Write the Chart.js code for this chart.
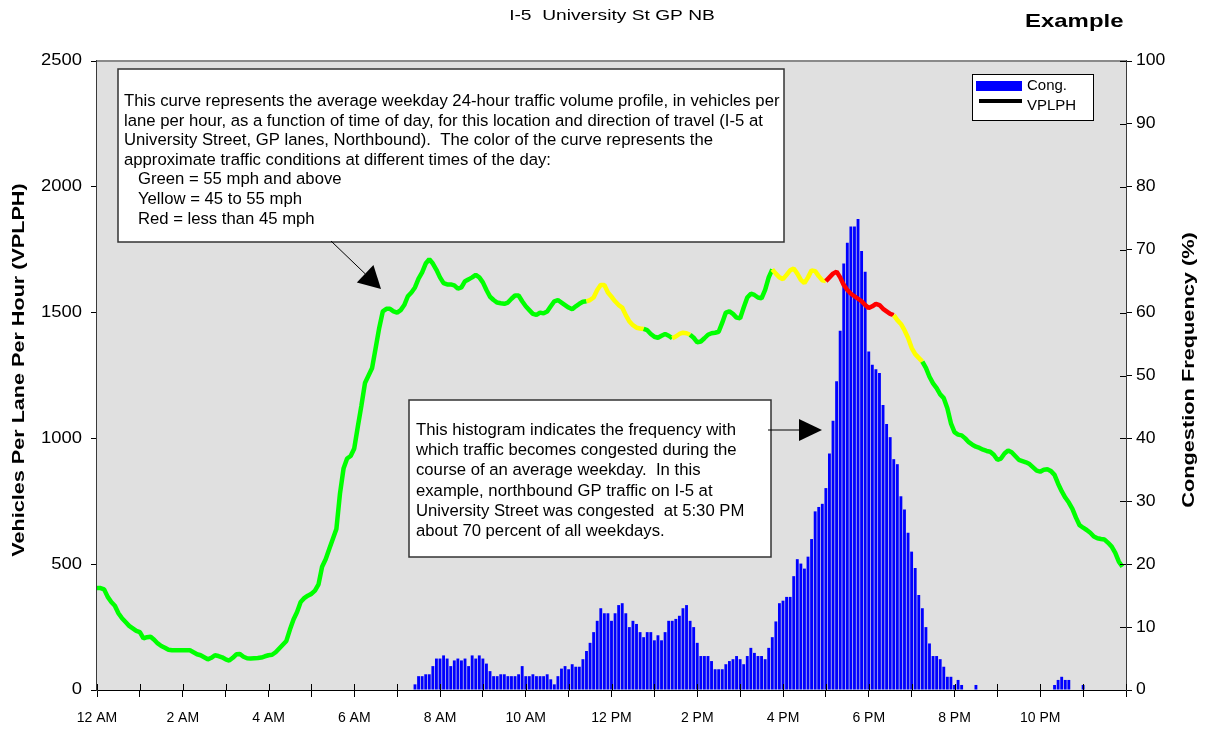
<!DOCTYPE html>
<html>
<head>
<meta charset="utf-8">
<script src="https://cdn.jsdelivr.net/npm/chart.js@4.4.1/dist/chart.umd.min.js"></script>
<style>
  html, body { margin: 0; padding: 0; background: #ffffff; }
  #wrap { width: 1217px; height: 730px; }
</style>
</head>
<body>
<div id="wrap"><canvas id="chart" width="1217" height="730"></canvas></div>
<script>
// Time bins are 5 minutes wide, 12 per hour, starting at midnight
const binMinutes = 5;

// Average weekday volume, vehicles per lane per hour (one row per hour)
const vplph = [
  405, 405, 400, 370, 350, 335, 305, 285, 270, 255, 245, 235,        // 12 AM
  230, 205, 210, 212, 200, 185, 175, 168, 160, 158, 158, 158,        // 1 AM
  158, 158, 158, 150, 142, 138, 130, 122, 128, 138, 135, 130,        // 2 AM
  122, 117, 128, 142, 143, 132, 126, 125, 126, 127, 129, 134,        // 3 AM
  138, 140, 150, 165, 180, 195, 240, 280, 310, 350, 365, 375,        // 4 AM
  382, 395, 420, 490, 520, 560, 600, 640, 780, 880, 920, 930,        // 5 AM
  960, 1047, 1130, 1220, 1250, 1280, 1360, 1440, 1505, 1515, 1515, 1505, // 6 AM
  1500, 1510, 1530, 1565, 1580, 1600, 1635, 1660, 1695, 1712, 1695, 1670, // 7 AM
  1640, 1617, 1612, 1612, 1608, 1595, 1600, 1625, 1632, 1640, 1650, 1640, // 8 AM
  1620, 1590, 1563, 1550, 1540, 1537, 1535, 1540, 1555, 1568, 1568, 1545, // 9 AM
  1525, 1510, 1495, 1491, 1500, 1497, 1504, 1525, 1545, 1550, 1540, 1530, // 10 AM
  1520, 1513, 1525, 1535, 1543, 1545, 1550, 1560, 1590, 1610, 1610, 1580, // 11 AM
  1563, 1545, 1530, 1520, 1490, 1465, 1450, 1440, 1437, 1435, 1430, 1415, // 12 PM
  1404, 1400, 1408, 1415, 1408, 1398, 1405, 1415, 1420, 1418, 1412, 1400, // 1 PM
  1382, 1385, 1398, 1412, 1418, 1420, 1424, 1460, 1500, 1505, 1495, 1480, // 2 PM
  1477, 1520, 1560, 1575, 1570, 1560, 1557, 1590, 1640, 1672, 1655, 1640, // 3 PM
  1633, 1650, 1668, 1675, 1655, 1630, 1617, 1640, 1668, 1665, 1645, 1628, // 4 PM
  1625, 1640, 1655, 1663, 1640, 1610, 1590, 1575, 1565, 1555, 1545, 1530, // 5 PM
  1518, 1525, 1535, 1530, 1515, 1505, 1495, 1490, 1470, 1455, 1430, 1400, // 6 PM
  1360, 1335, 1320, 1305, 1280, 1245, 1219, 1200, 1175, 1160, 1120, 1060, // 7 PM
  1025, 1015, 1012, 1000, 985, 975, 967, 962, 955, 950, 947, 935,    // 8 PM
  915, 920, 940, 952, 945, 930, 915, 910, 905, 898, 885, 872,        // 9 PM
  868, 875, 877, 870, 855, 820, 790, 765, 745, 720, 685, 655,        // 10 PM
  645, 636, 625, 610, 603, 600, 598, 585, 570, 545, 510, 490         // 11 PM
];

// Congestion frequency, percent of weekdays (one row per hour)
const congestion = [
  0, 0, 0, 0, 0, 0, 0, 0, 0, 0, 0, 0,                                // 12 AM
  0, 0, 0, 0, 0, 0, 0, 0, 0, 0, 0, 0,                                // 1 AM
  0, 0, 0, 0, 0, 0, 0, 0, 0, 0, 0, 0,                                // 2 AM
  0, 0, 0, 0, 0, 0, 0, 0, 0, 0, 0, 0,                                // 3 AM
  0, 0, 0, 0, 0, 0, 0, 0, 0, 0, 0, 0,                                // 4 AM
  0, 0, 0, 0, 0, 0, 0, 0, 0, 0, 0, 0,                                // 5 AM
  0, 0, 0, 0, 0, 0, 0, 0, 0, 0, 0, 0,                                // 6 AM
  0, 0, 0, 0, 0, 0.9, 2.2, 2.2, 2.5, 2.5, 3.8, 5,                    // 7 AM
  5, 5.5, 5, 3.8, 4.7, 5, 4.7, 5, 3.8, 5.5, 5, 5.5,                  // 8 AM
  5, 4.2, 3, 2.2, 2.2, 2.5, 2.5, 2.2, 2.2, 2.2, 2.5, 3.8,            // 9 AM
  2.2, 2.2, 2.5, 2.2, 2.2, 2.2, 2.5, 1.7, 0.9, 2.2, 3.4, 3.8,        // 10 AM
  3.3, 4.1, 3.7, 3.7, 4.9, 6.2, 7.5, 9.2, 11, 13, 12.2, 12.2,        // 11 AM
  11, 12.2, 13.5, 13.8, 12.2, 10, 11, 10.5, 9.2, 8.4, 9.2, 9.2,      // 12 PM
  7.9, 8.7, 7.9, 9.2, 11, 11, 11.3, 11.8, 13, 13.5, 11, 10,          // 1 PM
  7.5, 5.4, 5.4, 5.4, 4.6, 3.3, 3.3, 3.3, 4.1, 4.6, 4.9, 5.4,        // 2 PM
  4.9, 4.1, 5.4, 6.7, 5.9, 5.4, 5.4, 4.9, 6.7, 8.4, 10.9, 13.8,      // 3 PM
  14.2, 14.8, 14.8, 18.1, 20.8, 20.1, 19.3, 21.2, 24, 28.4, 29.1, 29.6, // 4 PM
  32.1, 37.6, 42.8, 49.1, 57.1, 67.8, 71.1, 73.7, 73.7, 74.9, 69.8, 66.5, // 5 PM
  53.8, 51.7, 51, 50.4, 45.3, 42.3, 40.2, 36.7, 35.9, 30.8, 28.7, 25, // 6 PM
  22, 19.4, 15.1, 13, 10, 7.4, 5.4, 5.4, 4.9, 3.7, 2.1, 2.1,         // 7 PM
  0.8, 1.6, 0.8, 0, 0, 0, 0.8, 0, 0, 0, 0, 0,                        // 8 PM
  0, 0, 0, 0, 0, 0, 0, 0, 0, 0, 0, 0,                                // 9 PM
  0, 0, 0, 0, 0.8, 1.6, 2.1, 1.6, 1.6, 0, 0, 0,                      // 10 PM
  0.8, 0, 0, 0, 0, 0, 0, 0, 0, 0, 0, 0                               // 11 PM
];

// Speed condition of the curve: each band starts at the given minute
const conditionStarts = [0, 685, 765, 805, 830, 945, 1020, 1115, 1155];
const conditionColors = ['#00ff00', '#ffff00', '#00ff00', '#ffff00', '#00ff00', '#ffff00', '#ff0000', '#ffff00', '#00ff00'];

// Bottom axis labels, every two hours
const timeLabels = ['12 AM', '2 AM', '4 AM', '6 AM', '8 AM', '10 AM', '12 PM', '2 PM', '4 PM', '6 PM', '8 PM', '10 PM'];

const chartTitle = 'I-5  University St GP NB';
const leftTitle = 'Vehicles Per Lane Per Hour (VPLPH)';
const rightTitle = 'Congestion Frequency (%)';
const curveNote = [
  'This curve represents the average weekday 24-hour traffic volume profile, in vehicles per',
  'lane per hour, as a function of time of day, for this location and direction of travel (I-5 at',
  'University Street, GP lanes, Northbound).  The color of the curve represents the',
  'approximate traffic conditions at different times of the day:',
  '   Green = 55 mph and above',
  '   Yellow = 45 to 55 mph',
  '   Red = less than 45 mph'
];
const histNote = [
  'This histogram indicates the frequency with',
  'which traffic becomes congested during the',
  'course of an average weekday.  In this',
  'example, northbound GP traffic on I-5 at',
  'University Street was congested  at 5:30 PM',
  'about 70 percent of all weekdays.'
];

const FONT = '"Liberation Sans", Arial, sans-serif';

function conditionColor(minute) {
  let c = conditionColors[0];
  for (let i = 0; i < conditionStarts.length; i++) {
    if (minute >= conditionStarts[i]) c = conditionColors[i];
  }
  return c;
}

// Text with optional horizontal stretch and rotation
function drawText(ctx, text, x, y, font, opts) {
  opts = opts || {};
  ctx.save();
  ctx.translate(x, y);
  if (opts.rotate) ctx.rotate(opts.rotate);
  ctx.scale(opts.sx || 1, 1);
  ctx.font = font;
  ctx.textAlign = opts.align || 'left';
  ctx.textBaseline = opts.baseline || 'middle';
  if (opts.spacing) ctx.letterSpacing = opts.spacing + 'px';
  ctx.fillStyle = opts.color || '#000000';
  ctx.fillText(text, 0, 0);
  ctx.restore();
}

function drawArrow(ctx, x0, y0, x1, y1, headLen, headHalf) {
  const len = Math.hypot(x1 - x0, y1 - y0);
  const ux = (x1 - x0) / len;
  const uy = (y1 - y0) / len;
  const bx = x1 - ux * headLen;
  const by = y1 - uy * headLen;
  ctx.save();
  ctx.strokeStyle = '#000000';
  ctx.lineWidth = 1;
  ctx.beginPath();
  ctx.moveTo(x0, y0);
  ctx.lineTo(bx, by);
  ctx.stroke();
  ctx.fillStyle = '#000000';
  ctx.beginPath();
  ctx.moveTo(x1, y1);
  ctx.lineTo(bx - uy * headHalf, by + ux * headHalf);
  ctx.lineTo(bx + uy * headHalf, by - ux * headHalf);
  ctx.closePath();
  ctx.fill();
  ctx.restore();
}

function drawNote(ctx, lines, left, top, width, height, textX, firstY, lineGap) {
  ctx.save();
  ctx.fillStyle = '#ffffff';
  ctx.fillRect(left, top, width, height);
  ctx.strokeStyle = '#333333';
  ctx.lineWidth = 1.5;
  ctx.strokeRect(left, top, width, height);
  ctx.restore();
  lines.forEach((line, i) => {
    drawText(ctx, line, textX, firstY + i * lineGap, '16.7px ' + FONT, { baseline: 'alphabetic' });
  });
}

// Grey plot background
const plotBackground = {
  id: 'plotBackground',
  beforeDatasetsDraw: (chart) => {
    const ctx = chart.ctx;
    const a = chart.chartArea;
    ctx.save();
    ctx.fillStyle = '#e0e0e0';
    ctx.fillRect(a.left, a.top, a.right - a.left, a.bottom - a.top);
    ctx.strokeStyle = '#8a8a8a';
    ctx.lineWidth = 2;
    ctx.beginPath();
    ctx.moveTo(a.left, a.top);
    ctx.lineTo(a.right, a.top);
    ctx.stroke();
    ctx.restore();
  }
};

// Titles, axis labels, legend, notes and arrows
const decorations = {
  id: 'decorations',
  afterDraw: (chart) => {
    const ctx = chart.ctx;
    const a = chart.chartArea;
    const x = chart.scales.x;
    const y = chart.scales.y;
    const y2 = chart.scales.y2;

    // inner half of the crossing tick marks
    ctx.save();
    ctx.strokeStyle = '#000000';
    ctx.lineWidth = 1;
    x.ticks.forEach(t => {
      const px = Math.round(x.getPixelForValue(t.value)) + 0.5;
      ctx.beginPath();
      ctx.moveTo(px, a.bottom - 6);
      ctx.lineTo(px, a.bottom);
      ctx.stroke();
    });
    y2.ticks.forEach(t => {
      const py = Math.round(y2.getPixelForValue(t.value)) + 0.5;
      ctx.beginPath();
      ctx.moveTo(a.right - 6, py);
      ctx.lineTo(a.right, py);
      ctx.stroke();
    });
    ctx.restore();

    // y tick labels (stretched like the source)
    y.ticks.forEach(t => {
      drawText(ctx, String(t.value), a.left - 15, y.getPixelForValue(t.value), '16px ' + FONT, { align: 'right', sx: 1.15 });
    });
    y2.ticks.forEach(t => {
      drawText(ctx, String(t.value), a.right + 10, y2.getPixelForValue(t.value), '16px ' + FONT, { align: 'left', sx: 1.1 });
    });

    // titles
    drawText(ctx, chartTitle, 612, 16, '14px ' + FONT, { align: 'center', sx: 1.37 });
    drawText(ctx, 'Example', 1025, 22, 'bold 19px ' + FONT, { align: 'left', sx: 1.26 });
    drawText(ctx, leftTitle, 20, 370, 'bold 16px ' + FONT, { align: 'center', rotate: -Math.PI / 2, sx: 1.35 });
    drawText(ctx, rightTitle, 1190, 370, 'bold 16px ' + FONT, { align: 'center', rotate: -Math.PI / 2, sx: 1.36 });

    // legend
    ctx.save();
    ctx.fillStyle = '#ffffff';
    ctx.fillRect(972, 74, 121, 46);
    ctx.strokeStyle = '#000000';
    ctx.lineWidth = 1;
    ctx.strokeRect(972.5, 74.5, 121, 46);
    ctx.fillStyle = '#0000ff';
    ctx.fillRect(976, 81, 46, 10);
    ctx.fillStyle = '#000000';
    ctx.fillRect(979, 99, 43, 4);
    ctx.restore();
    drawText(ctx, 'Cong.', 1027, 86, '15px ' + FONT);
    drawText(ctx, 'VPLPH', 1027, 106, '15px ' + FONT);

    // notes and arrows
    drawNote(ctx, curveNote, 118, 69, 666, 173, 124, 106, 19.6);
    drawArrow(ctx, 331, 241, 381, 289, 22, 12);
    drawNote(ctx, histNote, 409, 400, 362, 157, 416, 435, 20.2);
    drawArrow(ctx, 768, 430, 822, 430, 23, 11);
  }
};

const lineData = vplph.map((v, i) => ({ x: i * binMinutes, y: v }));
const barData = congestion.map((v, i) => ({ x: i * binMinutes, y: v }));

const ctx = document.getElementById('chart').getContext('2d');
new Chart(ctx, {
  data: {
    datasets: [
      {
        type: 'line',
        label: 'VPLPH',
        data: lineData,
        yAxisID: 'y',
        borderColor: '#00ff00',
        borderWidth: 4.5,
        pointRadius: 0,
        tension: 0,
        borderJoinStyle: 'bevel',
        segment: {
          borderColor: c => conditionColor(c.p0.parsed.x)
        },
        order: 1
      },
      {
        type: 'bar',
        label: 'Cong.',
        data: barData,
        yAxisID: 'y2',
        backgroundColor: '#0000ff',
        borderWidth: 0,
        barPercentage: 0.8,
        categoryPercentage: 1,
        order: 2
      }
    ]
  },
  options: {
    responsive: false,
    animation: false,
    devicePixelRatio: 1,
    layout: { padding: { top: 61, left: 0, right: 0, bottom: 0 } },
    plugins: {
      legend: { display: false },
      tooltip: { enabled: false },
      title: { display: false }
    },
    scales: {
      x: {
        type: 'linear',
        min: 0,
        max: 1440,
        offset: false,
        afterFit: s => { s.height = 40; },
        grid: { drawOnChartArea: false, drawTicks: true, tickLength: 7, color: '#000000', lineWidth: 1, offset: false },
        border: { color: '#000000', width: 2 },
        ticks: {
          stepSize: 60,
          autoSkip: false,
          maxRotation: 0,
          padding: 13,
          color: '#000000',
          font: { family: FONT, size: 14 },
          callback: v => (v % 120 === 0 && v < 1440) ? timeLabels[v / 120] : ''
        }
      },
      y: {
        position: 'left',
        min: 0,
        max: 2500,
        afterFit: s => { s.width = 97; },
        grid: { drawOnChartArea: false, drawTicks: true, tickLength: 6, color: '#000000' },
        border: { color: '#3a3a3a', width: 2 },
        ticks: { stepSize: 500, display: false }
      },
      y2: {
        position: 'right',
        min: 0,
        max: 100,
        afterFit: s => { s.width = 91; },
        grid: { drawOnChartArea: false, drawTicks: true, tickLength: 6, color: '#000000' },
        border: { color: '#3a3a3a', width: 2 },
        ticks: { stepSize: 10, display: false }
      }
    }
  },
  plugins: [plotBackground, decorations]
});
</script>
</body>
</html>
